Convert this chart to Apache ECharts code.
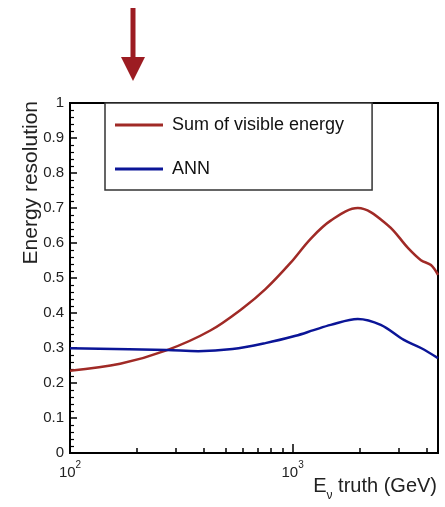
<!DOCTYPE html>
<html><head><meta charset="utf-8">
<script src="https://cdn.jsdelivr.net/npm/echarts@6/dist/echarts.min.js"></script>
<style>html,body{margin:0;padding:0;background:#fff}#c{width:445px;height:507px}</style>
</head><body><div id="c"></div>
<script>
const seriesNames = ['Sum of visible energy', 'ANN'];
const visibleEnergyE   = [100, 168, 273, 427, 601, 755, 978, 1205, 1483, 1963, 2677, 3297, 3772, 4184, 4500];
const visibleEnergyRes = [0.235, 0.255, 0.294, 0.350, 0.415, 0.468, 0.543, 0.612, 0.664, 0.700, 0.651, 0.586, 0.551, 0.537, 0.509];
const annE   = [100, 273, 377, 537, 755, 1032, 1243, 1483, 1963, 2489, 3162, 3772, 4500];
const annRes = [0.299, 0.294, 0.291, 0.297, 0.314, 0.335, 0.351, 0.366, 0.383, 0.366, 0.323, 0.300, 0.271];
const xMajorTicks = [100, 1000];
const xMinorTicks = [200, 300, 400, 500, 600, 700, 800, 900, 2000, 3000, 4000];
const xMin = 100, xMax = 4500;
const yMin = 0, yMax = 1, yStep = 0.1;

const FONT = '"Liberation Sans", Arial, Helvetica, sans-serif';
const RED = '#a02a26', BLUE = '#0b1597';
const zip = (a, b) => a.map((v, i) => [v, b[i]]);

const chart = echarts.init(document.getElementById('c'), null, {renderer: 'canvas'});
const supFmt = v => '{b|10}{s|' + Math.round(Math.log10(v)) + '}';

chart.setOption({
  animation: false,
  backgroundColor: '#fff',
  textStyle: {fontFamily: FONT},
  grid: {left: 70, right: 7, top: 103, bottom: 54, show: true, borderColor: '#000', borderWidth: 2, backgroundColor: 'transparent'},
  legend: {
    orient: 'vertical', left: 105, top: 103,
    data: seriesNames,
    icon: 'rect', itemWidth: 48, itemHeight: 3, itemGap: 26,
    padding: [13, 28, 12, 10],
    borderColor: '#333', borderWidth: 1.5, backgroundColor: '#fff',
    textStyle: {fontSize: 18, color: '#111', fontFamily: FONT, padding: [0, 0, 0, 4]}
  },
  xAxis: [{
    type: 'log', logBase: 10, min: xMin, max: xMax,
    axisLine: {lineStyle: {color: '#000', width: 2}},
    axisTick: {inside: true, length: 9, lineStyle: {color: '#000', width: 1.5}, customValues: xMajorTicks},
    axisLabel: {customValues: xMajorTicks, formatter: supFmt, margin: 7, color: '#222',
      rich: {b: {fontSize: 15, fontFamily: FONT, color: '#222', lineHeight: 20, verticalAlign: 'bottom'},
             s: {fontSize: 10, fontFamily: FONT, color: '#222', verticalAlign: 'top'}}},
    splitLine: {show: false}, minorTick: {show: false}
  }, {
    type: 'log', logBase: 10, min: xMin, max: xMax, position: 'bottom',
    axisLine: {show: false},
    axisTick: {inside: true, length: 5, lineStyle: {color: '#000', width: 1.5}, customValues: xMinorTicks},
    axisLabel: {show: false}, splitLine: {show: false}
  }],
  yAxis: {
    type: 'value', min: yMin, max: yMax, interval: yStep,
    axisLine: {show: true, lineStyle: {color: '#000', width: 2}},
    axisTick: {inside: true, length: 7, lineStyle: {color: '#000', width: 1.5}},
    minorTick: {show: true, splitNumber: 5, length: 4, lineStyle: {color: '#000', width: 1.2}},
    axisLabel: {fontSize: 15, color: '#222', margin: 6, fontFamily: FONT},
    splitLine: {show: false}
  },
  series: [{
    name: seriesNames[0], type: 'line', xAxisIndex: 0, smooth: 0.35, showSymbol: false,
    data: zip(visibleEnergyE, visibleEnergyRes),
    itemStyle: {color: RED}, lineStyle: {color: RED, width: 2.5}
  }, {
    name: seriesNames[1], type: 'line', xAxisIndex: 0, smooth: 0.35, showSymbol: false,
    data: zip(annE, annRes),
    itemStyle: {color: BLUE}, lineStyle: {color: BLUE, width: 2.5}
  }],
  graphic: [
    {type: 'text', x: 31, y: 101, rotation: Math.PI / 2,
     style: {text: 'Energy resolution', fontSize: 21, fontFamily: FONT, fill: '#222', align: 'right', verticalAlign: 'middle'}},
    {type: 'text', right: 8, top: 476,
     style: {text: '{a|E}{v|ν}{a| truth (GeV)}', fill: '#222',
       rich: {a: {fontSize: 20, fontFamily: FONT, fill: '#222', lineHeight: 26, verticalAlign: 'top'},
              v: {fontSize: 12, fontFamily: FONT, fill: '#222', verticalAlign: 'bottom'}}}},
    {type: 'rect', shape: {x: 130.5, y: 8, width: 5, height: 52}, style: {fill: '#9c1c22'}},
    {type: 'polygon', shape: {points: [[121, 57], [145, 57], [133, 81]]}, style: {fill: '#9c1c22'}}
  ]
});
</script></body></html>
